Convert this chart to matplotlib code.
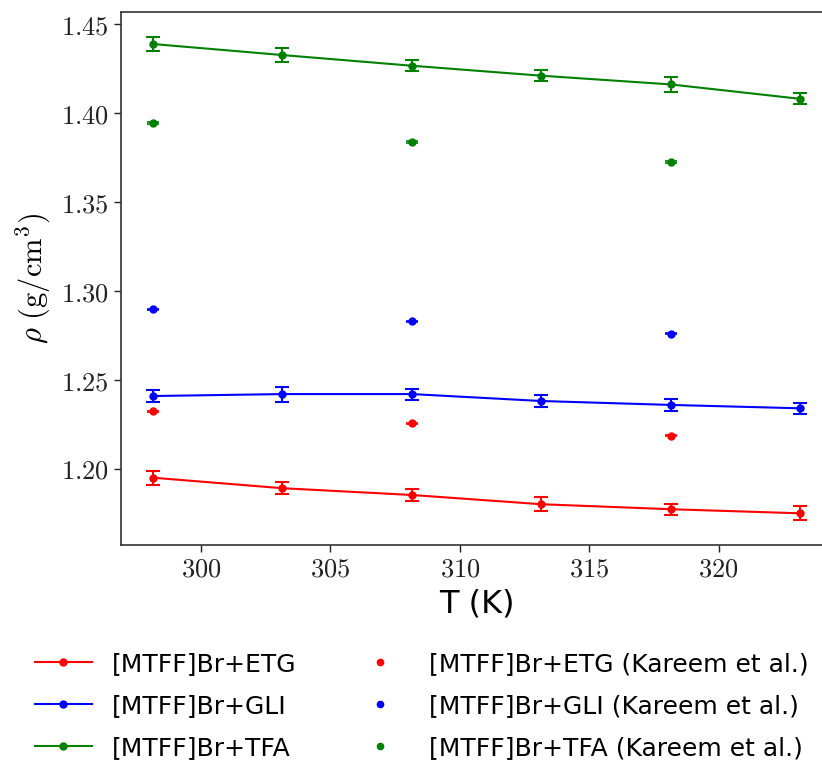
import numpy as np
import matplotlib
matplotlib.use("Agg")
import matplotlib.pyplot as plt
from matplotlib.lines import Line2D
from matplotlib.ticker import FuncFormatter

plt.rcParams['mathtext.fontset'] = 'cm'

# temperatures (K)
T = [298.15, 303.15, 308.15, 313.15, 318.15, 323.15]
T_lit = [298.15, 308.15, 318.15]

# this work
etg = [1.1951, 1.1892, 1.1854, 1.1802, 1.1774, 1.1751]
etg_err = [0.0040, 0.0033, 0.0032, 0.0040, 0.0032, 0.0040]
gli = [1.2410, 1.2421, 1.2421, 1.2382, 1.2360, 1.2341]
gli_err = [0.0033, 0.0042, 0.0031, 0.0033, 0.0033, 0.0032]
tfa = [1.4388, 1.4326, 1.4266, 1.4210, 1.4161, 1.4080]
tfa_err = [0.0042, 0.0041, 0.0032, 0.0032, 0.0041, 0.0030]

# Kareem et al.
etg_lit = [1.2324, 1.2257, 1.2187]
gli_lit = [1.2897, 1.2830, 1.2760]
tfa_lit = [1.3944, 1.3837, 1.3726]
lit_err = 0.0004

names = ['[MTFF]Br+ETG', '[MTFF]Br+GLI', '[MTFF]Br+TFA']
colors = ['red', 'blue', 'green']

fig = plt.figure(figsize=(8.22, 7.62), dpi=100)
ax = fig.add_axes([0.1468, 0.2848, 0.866, 0.699])

for y, e, c in zip([etg, gli, tfa], [etg_err, gli_err, tfa_err], colors):
    ax.errorbar(T, y, yerr=e, color=c, marker='o', markersize=5, lw=1.5,
                capsize=5, capthick=1.5, elinewidth=1.5)
for y, c in zip([etg_lit, gli_lit, tfa_lit], colors):
    ax.errorbar(T_lit, y, yerr=lit_err, color=c, marker='o', markersize=5,
                ls='none', capsize=4, capthick=1.2, elinewidth=1.2)

ax.set_xlim(296.9, 324.4)
ax.set_ylim(1.1573, 1.4566)
ax.set_xticks([300, 305, 310, 315, 320])
ax.set_yticks([1.20, 1.25, 1.30, 1.35, 1.40, 1.45])
ax.xaxis.set_major_formatter(FuncFormatter(lambda v, p: f"${v:.0f}$"))
ax.yaxis.set_major_formatter(FuncFormatter(lambda v, p: f"${v:.2f}$"))
ax.tick_params(labelsize=19, length=5, width=1, colors='#222222')
ax.spines['right'].set_visible(False)
for s in ['left', 'bottom', 'top']:
    ax.spines[s].set_color('#333333')
    ax.spines[s].set_linewidth(1.2)

ax.set_xlabel('T (K)', fontsize=23, labelpad=4)
ax.set_ylabel(r'$\rho\ (\mathrm{g/cm^3})$', fontsize=22, labelpad=6)

handles = []
labels = []
for n, c in zip(names, colors):
    handles.append(Line2D([], [], color=c, marker='o', markersize=5, lw=1.5))
    labels.append(n)
for n, c in zip(names, colors):
    handles.append(Line2D([], [], color=c, marker='o', markersize=4.5, ls='none'))
    labels.append(n + ' (Kareem et al.)')

fig.legend(handles, labels, loc='upper left', bbox_to_anchor=(0.03, 0.158),
           ncol=2, frameon=False, fontsize=18, handlelength=2.3,
           handletextpad=0.8, columnspacing=2.2, labelspacing=0.73,
           borderaxespad=0)

fig.savefig('out.png', dpi=100)
